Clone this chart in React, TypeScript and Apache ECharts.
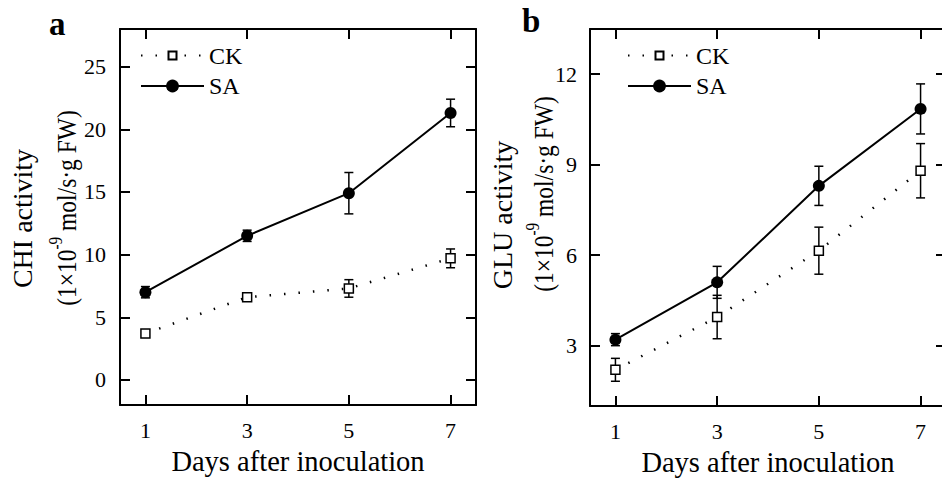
import React, { useEffect, useRef } from 'react';
import * as echarts from 'echarts';

// ---- data ----
const days = [1, 3, 5, 7];
const xTicks = [1, 3, 5, 7];
const chiTicks = [0, 5, 10, 15, 20, 25];
const gluTicks = [3, 6, 9, 12];
const chiCK = [3.7, 6.6, 7.3, 9.7];
const chiCKErr = [0.3, 0.3, 0.7, 0.75];
const chiSA = [7.0, 11.5, 14.9, 21.3];
const chiSAErr = [0.45, 0.45, 1.65, 1.1];
const gluCK = [2.2, 3.95, 6.15, 8.8];
const gluCKErr = [0.38, 0.72, 0.78, 0.9];
const gluSA = [3.2, 5.1, 8.3, 10.85];
const gluSAErr = [0.2, 0.53, 0.65, 0.83];
const seriesNames = ['CK', 'SA'];

const FONT = "'Liberation Serif', 'Times New Roman', serif";

const xAxes = (gi: number) => [
  {
    gridIndex: gi, type: 'value', min: 0.5, max: 7.5, position: 'bottom',
    axisLine: { show: true, onZero: false, lineStyle: { color: '#000', width: 2 } },
    axisTick: { show: true, inside: true, length: 10, customValues: xTicks, lineStyle: { color: '#000', width: 2 } },
    axisLabel: { show: true, customValues: xTicks, color: '#000', fontSize: 22, lineHeight: 22, fontFamily: FONT, margin: 14 },
    splitLine: { show: false },
    name: 'Days after inoculation', nameLocation: 'middle', nameGap: 43,
    nameTextStyle: { color: '#000', fontSize: 28.5, lineHeight: 26, fontFamily: FONT },
  },
  {
    gridIndex: gi, type: 'value', min: 0.5, max: 7.5, position: 'top',
    axisLine: { show: true, onZero: false, lineStyle: { color: '#000', width: 2 } },
    axisTick: { show: true, inside: true, length: 10, customValues: xTicks, lineStyle: { color: '#000', width: 2 } },
    axisLabel: { show: false },
    splitLine: { show: false },
  },
];

const yAxes = (gi: number, min: number, max: number, ticks: number[], margin: number) => [
  {
    gridIndex: gi, type: 'value', min, max, position: 'left',
    axisLine: { show: true, onZero: false, lineStyle: { color: '#000', width: 2 } },
    axisTick: { show: true, inside: true, length: 10, customValues: ticks, lineStyle: { color: '#000', width: 2 } },
    axisLabel: { show: true, customValues: ticks, color: '#000', fontSize: 22, lineHeight: 22, fontFamily: FONT, margin },
    splitLine: { show: false },
  },
  {
    gridIndex: gi, type: 'value', min, max, position: 'right',
    axisLine: { show: true, onZero: false, lineStyle: { color: '#000', width: 2 } },
    axisTick: { show: true, inside: true, length: 10, customValues: ticks, lineStyle: { color: '#000', width: 2 } },
    axisLabel: { show: false },
    splitLine: { show: false },
  },
];

const errRender = (params: any, api: any) => {
  const x = api.value(0);
  const lo = api.value(1);
  const hi = api.value(2);
  const top = api.coord([x, hi]);
  const bot = api.coord([x, lo]);
  const w = 4.5;
  const style = { stroke: '#000', lineWidth: 1.5 };
  return {
    type: 'group',
    children: [
      { type: 'line', shape: { x1: top[0], y1: top[1], x2: bot[0], y2: bot[1] }, style },
      { type: 'line', shape: { x1: top[0] - w, y1: top[1], x2: top[0] + w, y2: top[1] }, style },
      { type: 'line', shape: { x1: bot[0] - w, y1: bot[1], x2: bot[0] + w, y2: bot[1] }, style },
    ],
  };
};

const ckSeries = (name: string, vals: number[], xi: number, yi: number) => ({
  name, type: 'line', xAxisIndex: xi, yAxisIndex: yi, z: 3,
  data: days.map((d, i) => [d, vals[i]]),
  symbol: 'rect', symbolSize: 9,
  itemStyle: { color: '#fff', borderColor: '#000', borderWidth: 1.5 },
  lineStyle: { color: '#000', width: 2.5, type: [1.5, 13] },
});

const saSeries = (name: string, vals: number[], xi: number, yi: number) => ({
  name, type: 'line', xAxisIndex: xi, yAxisIndex: yi, z: 3,
  data: days.map((d, i) => [d, vals[i]]),
  symbol: 'circle', symbolSize: 12,
  itemStyle: { color: '#000' },
  lineStyle: { color: '#000', width: 2, type: 'solid' },
});

const errSeries = (name: string, vals: number[], errs: number[], xi: number, yi: number) => ({
  name, type: 'custom', xAxisIndex: xi, yAxisIndex: yi, z: 1,
  renderItem: errRender,
  encode: { x: 0, y: [1, 2] },
  data: days.map((d, i) => [d, vals[i] - errs[i], vals[i] + errs[i]]),
});

const legend = (name: string, left: number, top: number, itemHeight: number) => ({
  data: [name], left, top, orient: 'vertical', padding: 0,
  itemWidth: 63, itemHeight, selectedMode: false,
  formatter: (n: string) => n.split('-')[0],
  textStyle: { color: '#000', fontSize: 24, lineHeight: 22, fontFamily: FONT },
});

const yLabel = (x1: number, y1: number, x2: number, y2: number, title: string) => [
  {
    type: 'text', x: x1, y: y1, rotation: Math.PI / 2,
    style: { text: title, fill: '#000', fontSize: 28, fontFamily: FONT, align: 'center', verticalAlign: 'middle' },
  },
  {
    type: 'text', x: x2, y: y2, rotation: Math.PI / 2, scaleX: 0.84, scaleY: 1,
    style: {
      text: '{m|(1×10}{s|-9}{m| mol/s·g FW)}', fill: '#000', fontSize: 28, fontFamily: FONT,
      align: 'center', verticalAlign: 'middle',
      rich: {
        m: { fontSize: 28, fontFamily: FONT, fill: '#000', lineHeight: 34, verticalAlign: 'bottom' },
        s: { fontSize: 18, fontFamily: FONT, fill: '#000', lineHeight: 18, verticalAlign: 'top' },
      },
    },
  },
];

export default function App() {
  const ref = useRef<HTMLDivElement>(null);
  useEffect(() => {
    if (!ref.current) return;
    const chart = echarts.init(ref.current, undefined, { renderer: 'svg' });
    const option: any = {
      animation: false,
      backgroundColor: '#fff',
      grid: [
        { left: 120, top: 29, width: 356, height: 376, outerBoundsMode: 'none', containLabel: false },
        { left: 590, top: 29, width: 356, height: 377, outerBoundsMode: 'none', containLabel: false },
      ],
      xAxis: [...xAxes(0), ...xAxes(1)],
      yAxis: [...yAxes(0, -2, 28, chiTicks, 14), ...yAxes(1, 1, 13.5, gluTicks, 13)],
      legend: [
        legend('CK-a', 140, 43.5, 10),
        legend('SA-a', 140, 74, 16),
        legend('CK-b', 627, 43.5, 10),
        legend('SA-b', 627, 74, 16),
      ],
      series: [
        errSeries('CKerr-a', chiCK, chiCKErr, 0, 0),
        errSeries('SAerr-a', chiSA, chiSAErr, 0, 0),
        ckSeries(seriesNames[0] + '-a', chiCK, 0, 0),
        saSeries(seriesNames[1] + '-a', chiSA, 0, 0),
        errSeries('CKerr-b', gluCK, gluCKErr, 2, 2),
        errSeries('SAerr-b', gluSA, gluSAErr, 2, 2),
        ckSeries(seriesNames[0] + '-b', gluCK, 2, 2),
        saSeries(seriesNames[1] + '-b', gluSA, 2, 2),
      ],
      graphic: {
        elements: [
          { type: 'text', x: 49, y: 24, style: { text: 'a', fill: '#000', fontSize: 33, fontWeight: 'bold', fontFamily: FONT, align: 'left', verticalAlign: 'middle' } },
          { type: 'text', x: 522, y: 21, style: { text: 'b', fill: '#000', fontSize: 33, fontWeight: 'bold', fontFamily: FONT, align: 'left', verticalAlign: 'middle' } },
          ...yLabel(22, 218.5, 64, 208, 'CHI activity'),
          ...yLabel(502, 215, 541, 194, 'GLU activity'),
        ],
      },
    };
    chart.setOption(option);
    return () => chart.dispose();
  }, []);
  return <div ref={ref} style={{ position: 'fixed', left: 0, top: 0, width: 942, height: 478 }} />;
}
